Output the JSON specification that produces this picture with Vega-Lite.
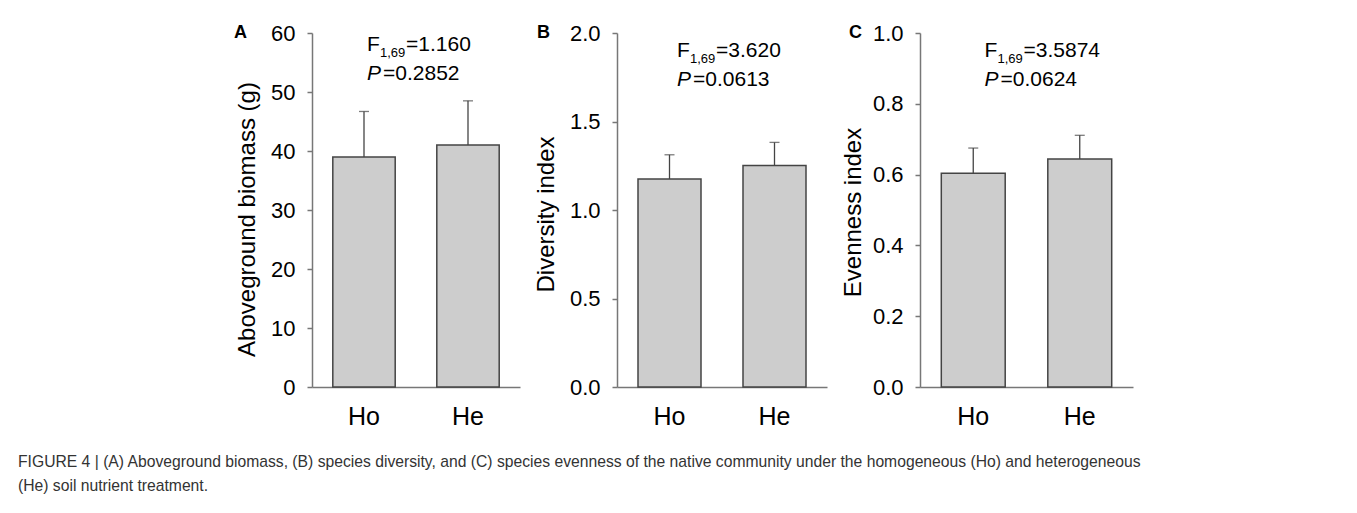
{
  "$schema": "https://vega.github.io/schema/vega-lite/v6.json",
  "background": "white",
  "padding": {"left": 18, "top": 22, "right": 5, "bottom": 5},
  "spacing": 14,
  "title": {
    "text": ["FIGURE 4 | (A) Aboveground biomass, (B) species diversity, and (C) species evenness of the native community under the homogeneous (Ho) and heterogeneous", "(He) soil nutrient treatment."],
    "orient": "bottom", "anchor": "start", "frame": "bounds", "dx": -216, "offset": 26,
    "fontSize": 15.7, "font": "Liberation Sans", "fontWeight": "normal", "color": "#333", "lineHeight": 24, "baseline": "top"
  },
  "hconcat": [
    {
      "width": 208, "height": 354,
      "title": {"text": "A", "anchor": "start", "frame": "group", "dx": -78, "offset": -20, "fontSize": 18, "fontWeight": "bold", "color": "#000", "baseline": "top"},
      "data": {"values": [{"group": "Ho", "mean": 39.0, "upper": 46.7}, {"group": "He", "mean": 41.0, "upper": 48.5}]},
      "encoding": {"x": {"field": "group", "type": "nominal", "sort": ["Ho", "He"], "title": null, "scale": {"paddingInner": 0.4, "paddingOuter": 0.2}}},
      "layer": [
        {"mark": {"type": "bar", "fill": "#cdcdcd", "stroke": "#444", "strokeWidth": 1.5},
         "encoding": {"y": {"field": "mean", "type": "quantitative", "title": "Aboveground biomass (g)", "scale": {"domain": [0, 60]}, "axis": {"values": [0, 10, 20, 30, 40, 50, 60], "titleY": 186}}}},
        {"mark": {"type": "rule", "stroke": "#444", "strokeWidth": 1.3},
         "encoding": {"y": {"field": "mean", "type": "quantitative", "title": "Aboveground biomass (g)"}, "y2": {"field": "upper"}}},
        {"mark": {"type": "tick", "color": "#444", "thickness": 1.3, "size": 10},
         "encoding": {"y": {"field": "upper", "type": "quantitative", "title": "Aboveground biomass (g)"}}},
        {"data": {"values": [{"t": "F"}]}, "mark": {"type": "text", "align": "left", "dx": -49, "fontSize": 21, "baseline": "alphabetic", "color": "#000"},
         "encoding": {"x": null, "text": {"field": "t"}, "y": {"datum": 57.0, "type": "quantitative", "title": "Aboveground biomass (g)"}}},
        {"data": {"values": [{"t": "1,69"}]}, "mark": {"type": "text", "align": "left", "dx": -36, "dy": 6, "fontSize": 13, "baseline": "alphabetic", "color": "#000"},
         "encoding": {"x": null, "text": {"field": "t"}, "y": {"datum": 57.0, "type": "quantitative", "title": "Aboveground biomass (g)"}}},
        {"data": {"values": [{"t": "=1.160"}]}, "mark": {"type": "text", "align": "left", "dx": -10, "fontSize": 21, "baseline": "alphabetic", "color": "#000"},
         "encoding": {"x": null, "text": {"field": "t"}, "y": {"datum": 57.0, "type": "quantitative", "title": "Aboveground biomass (g)"}}},
        {"data": {"values": [{"t": "P"}]}, "mark": {"type": "text", "align": "left", "dx": -49, "fontSize": 21, "fontStyle": "italic", "baseline": "alphabetic", "color": "#000"},
         "encoding": {"x": null, "text": {"field": "t"}, "y": {"datum": 52.0, "type": "quantitative", "title": "Aboveground biomass (g)"}}},
        {"data": {"values": [{"t": "=0.2852"}]}, "mark": {"type": "text", "align": "left", "dx": -33, "fontSize": 21, "baseline": "alphabetic", "color": "#000"},
         "encoding": {"x": null, "text": {"field": "t"}, "y": {"datum": 52.0, "type": "quantitative", "title": "Aboveground biomass (g)"}}}
      ]
    },
    {
      "width": 210, "height": 354,
      "title": {"text": "B", "anchor": "start", "frame": "group", "dx": -80, "offset": -20, "fontSize": 18, "fontWeight": "bold", "color": "#000", "baseline": "top"},
      "data": {"values": [{"group": "Ho", "mean": 1.175, "upper": 1.312}, {"group": "He", "mean": 1.252, "upper": 1.382}]},
      "encoding": {"x": {"field": "group", "type": "nominal", "sort": ["Ho", "He"], "title": null, "scale": {"paddingInner": 0.4, "paddingOuter": 0.2}}},
      "layer": [
        {"mark": {"type": "bar", "fill": "#cdcdcd", "stroke": "#444", "strokeWidth": 1.5},
         "encoding": {"y": {"field": "mean", "type": "quantitative", "title": "Diversity index", "scale": {"domain": [0, 2]}, "axis": {"values": [0, 0.5, 1, 1.5, 2], "format": ".1f", "titleY": 181}}}},
        {"mark": {"type": "rule", "stroke": "#444", "strokeWidth": 1.3},
         "encoding": {"y": {"field": "mean", "type": "quantitative", "title": "Diversity index"}, "y2": {"field": "upper"}}},
        {"mark": {"type": "tick", "color": "#444", "thickness": 1.3, "size": 10},
         "encoding": {"y": {"field": "upper", "type": "quantitative", "title": "Diversity index"}}},
        {"data": {"values": [{"t": "F"}]}, "mark": {"type": "text", "align": "left", "dx": -45, "fontSize": 21, "baseline": "alphabetic", "color": "#000"},
         "encoding": {"x": null, "text": {"field": "t"}, "y": {"datum": 1.863, "type": "quantitative", "title": "Diversity index"}}},
        {"data": {"values": [{"t": "1,69"}]}, "mark": {"type": "text", "align": "left", "dx": -32, "dy": 6, "fontSize": 13, "baseline": "alphabetic", "color": "#000"},
         "encoding": {"x": null, "text": {"field": "t"}, "y": {"datum": 1.863, "type": "quantitative", "title": "Diversity index"}}},
        {"data": {"values": [{"t": "=3.620"}]}, "mark": {"type": "text", "align": "left", "dx": -6, "fontSize": 21, "baseline": "alphabetic", "color": "#000"},
         "encoding": {"x": null, "text": {"field": "t"}, "y": {"datum": 1.863, "type": "quantitative", "title": "Diversity index"}}},
        {"data": {"values": [{"t": "P"}]}, "mark": {"type": "text", "align": "left", "dx": -45, "fontSize": 21, "fontStyle": "italic", "baseline": "alphabetic", "color": "#000"},
         "encoding": {"x": null, "text": {"field": "t"}, "y": {"datum": 1.7, "type": "quantitative", "title": "Diversity index"}}},
        {"data": {"values": [{"t": "=0.0613"}]}, "mark": {"type": "text", "align": "left", "dx": -29, "fontSize": 21, "baseline": "alphabetic", "color": "#000"},
         "encoding": {"x": null, "text": {"field": "t"}, "y": {"datum": 1.7, "type": "quantitative", "title": "Diversity index"}}}
      ]
    },
    {
      "width": 213, "height": 354,
      "title": {"text": "C", "anchor": "start", "frame": "group", "dx": -71, "offset": -20, "fontSize": 18, "fontWeight": "bold", "color": "#000", "baseline": "top"},
      "data": {"values": [{"group": "Ho", "mean": 0.604, "upper": 0.675}, {"group": "He", "mean": 0.644, "upper": 0.711}]},
      "encoding": {"x": {"field": "group", "type": "nominal", "sort": ["Ho", "He"], "title": null, "scale": {"paddingInner": 0.4, "paddingOuter": 0.2}}},
      "layer": [
        {"mark": {"type": "bar", "fill": "#cdcdcd", "stroke": "#444", "strokeWidth": 1.5},
         "encoding": {"y": {"field": "mean", "type": "quantitative", "title": "Evenness index", "scale": {"domain": [0, 1]}, "axis": {"values": [0, 0.2, 0.4, 0.6, 0.8, 1], "format": ".1f", "titleY": 179, "titlePadding": 7}}}},
        {"mark": {"type": "rule", "stroke": "#444", "strokeWidth": 1.3},
         "encoding": {"y": {"field": "mean", "type": "quantitative", "title": "Evenness index"}, "y2": {"field": "upper"}}},
        {"mark": {"type": "tick", "color": "#444", "thickness": 1.3, "size": 10},
         "encoding": {"y": {"field": "upper", "type": "quantitative", "title": "Evenness index"}}},
        {"data": {"values": [{"t": "F"}]}, "mark": {"type": "text", "align": "left", "dx": -42, "fontSize": 21, "baseline": "alphabetic", "color": "#000"},
         "encoding": {"x": null, "text": {"field": "t"}, "y": {"datum": 0.931, "type": "quantitative", "title": "Evenness index"}}},
        {"data": {"values": [{"t": "1,69"}]}, "mark": {"type": "text", "align": "left", "dx": -29, "dy": 6, "fontSize": 13, "baseline": "alphabetic", "color": "#000"},
         "encoding": {"x": null, "text": {"field": "t"}, "y": {"datum": 0.931, "type": "quantitative", "title": "Evenness index"}}},
        {"data": {"values": [{"t": "=3.5874"}]}, "mark": {"type": "text", "align": "left", "dx": -3, "fontSize": 21, "baseline": "alphabetic", "color": "#000"},
         "encoding": {"x": null, "text": {"field": "t"}, "y": {"datum": 0.931, "type": "quantitative", "title": "Evenness index"}}},
        {"data": {"values": [{"t": "P"}]}, "mark": {"type": "text", "align": "left", "dx": -42, "fontSize": 21, "fontStyle": "italic", "baseline": "alphabetic", "color": "#000"},
         "encoding": {"x": null, "text": {"field": "t"}, "y": {"datum": 0.85, "type": "quantitative", "title": "Evenness index"}}},
        {"data": {"values": [{"t": "=0.0624"}]}, "mark": {"type": "text", "align": "left", "dx": -26, "fontSize": 21, "baseline": "alphabetic", "color": "#000"},
         "encoding": {"x": null, "text": {"field": "t"}, "y": {"datum": 0.85, "type": "quantitative", "title": "Evenness index"}}}
      ]
    }
  ],
  "config": {
    "font": "Liberation Sans",
    "view": {"stroke": null},
    "title": {"font": "Liberation Sans"},
    "axisY": {"domainColor": "#777", "domainWidth": 1.5, "tickColor": "#777", "tickWidth": 1.5, "tickSize": 5, "labelFontSize": 22, "labelColor": "#000", "labelPadding": 12, "titleFontSize": 24, "titleFontWeight": "normal", "titleColor": "#000", "titlePadding": 11, "grid": false},
    "axisX": {"domainColor": "#777", "domainWidth": 1.5, "ticks": false, "labelFontSize": 25, "labelColor": "#000", "labelPadding": 17, "labelAngle": 0, "grid": false}
  }
}
